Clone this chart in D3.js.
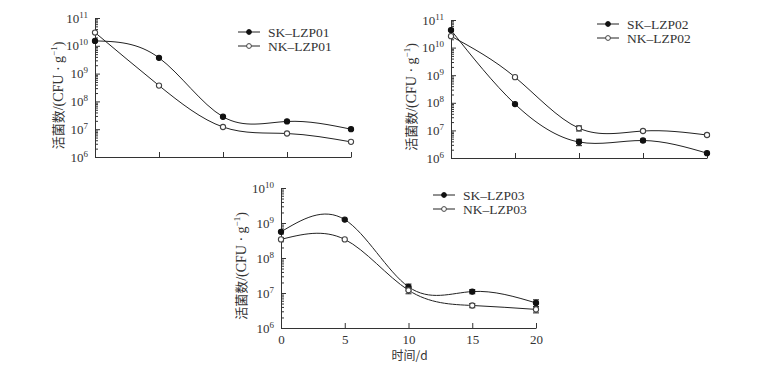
<!DOCTYPE html>
<html>
<head>
<meta charset="utf-8">
<script src="https://cdn.jsdelivr.net/npm/d3@7"></script>
<style>
  body { margin: 0; background: #fff; }
  svg text { font-family: "Liberation Serif", "Times New Roman", serif; fill: #333; }
  .cjk { font-family: "Noto Sans CJK SC", sans-serif; }
</style>
</head>
<body>
<svg id="chart" width="757" height="378"></svg>
<script>
// days
const days = [0, 5, 10, 15, 20];

// viable counts, CFU/g
const sk01 = [1.5e10, 3.7e9, 2.8e7, 1.9e7, 1.0e7];
const nk01 = [3.0e10, 3.7e8, 1.2e7, 7.0e6, 3.5e6];
const sk02 = [4.3e10, 9.0e7, 3.8e6, 4.3e6, 1.5e6];
const nk02 = [2.6e10, 8.5e8, 1.2e7, 9.5e6, 6.8e6];
const sk03 = [5.6e8, 1.25e9, 1.5e7, 1.1e7, 5.2e6];
const nk03 = [3.4e8, 3.4e8, 1.2e7, 4.4e6, 3.4e6];

// standard deviations (0 = no visible bar)
const sk01Err = [0, 0, 0, 0, 0];
const nk01Err = [0, 0, 0, 0, 0];
const sk02Err = [0, 0, 1.0e6, 0.5e6, 0];
const nk02Err = [0, 0, 2.5e6, 1.0e6, 0.8e6];
const sk03Err = [0, 0, 3.0e6, 1.5e6, 1.2e6];
const nk03Err = [0, 0, 2.5e6, 0.6e6, 0.7e6];

const xTickLabels = ['0', '5', '10', '15', '20'];

const svg = d3.select('#chart');

// panel boxes (pixel frame of the plot area)
const panels = [
  { left: 95, right: 351, top: 18, bottom: 157, yMin: 1e6, yMax: 1e11, showX: false,
    series: [{ name: 'SK\u2013LZP01', vals: sk01, err: sk01Err, filled: true },
             { name: 'NK\u2013LZP01', vals: nk01, err: nk01Err, filled: false }],
    legend: { x: 238, y: 32 }, titleX: 63 },
  { left: 451, right: 707, top: 20, bottom: 158, yMin: 1e6, yMax: 1e11, showX: false,
    series: [{ name: 'SK\u2013LZP02', vals: sk02, err: sk02Err, filled: true },
             { name: 'NK\u2013LZP02', vals: nk02, err: nk02Err, filled: false }],
    legend: { x: 597, y: 24 }, titleX: 416 },
  { left: 281, right: 536, top: 188, bottom: 328, yMin: 1e6, yMax: 1e10, showX: true,
    series: [{ name: 'SK\u2013LZP03', vals: sk03, err: sk03Err, filled: true },
             { name: 'NK\u2013LZP03', vals: nk03, err: nk03Err, filled: false }],
    legend: { x: 433, y: 195 }, titleX: 246 }
];

panels.forEach(p => {
  const x = d3.scaleLinear().domain([0, 20]).range([p.left, p.right]);
  const y = d3.scaleLog().domain([p.yMin, p.yMax]).range([p.bottom, p.top]);
  const g = svg.append('g');

  // minor ticks
  const minor = y.ticks().filter(v => Math.abs(Math.log10(v) % 1) > 1e-6);
  g.append('g')
    .attr('transform', `translate(${p.left},0)`)
    .call(d3.axisLeft(y).tickValues(minor).tickSize(-3).tickFormat(''))
    .call(a => a.select('.domain').remove())
    .selectAll('line').attr('stroke', '#333');

  // major ticks + labels
  const expo = d3.range(Math.log10(p.yMin), Math.log10(p.yMax) + 1);
  const yAxis = g.append('g')
    .attr('transform', `translate(${p.left},0)`)
    .call(d3.axisLeft(y).tickValues(expo.map(e => Math.pow(10, e))).tickSize(-5).tickSizeOuter(0).tickPadding(7).tickFormat(''));
  yAxis.select('.domain').attr('stroke', '#333');
  yAxis.selectAll('.tick line').attr('stroke', '#333');
  yAxis.selectAll('.tick text').each(function(d) {
    const t = d3.select(this)
      .attr('font-size', 13)
      .attr('font-family', '"Liberation Serif", serif')
      .attr('fill', '#333');
    t.text('10');
    t.append('tspan').attr('dy', -5).attr('font-size', 9).text(String(Math.round(Math.log10(d))));
  });

  // x axis
  const xAxis = g.append('g')
    .attr('transform', `translate(0,${p.bottom})`)
    .call(d3.axisBottom(x).tickValues(days).tickSize(-5).tickSizeOuter(0).tickPadding(7)
      .tickFormat((d, i) => p.showX ? xTickLabels[i] : ''));
  xAxis.select('.domain').attr('stroke', '#333');
  xAxis.selectAll('.tick line').attr('stroke', '#333');
  xAxis.selectAll('.tick text').attr('font-size', 13)
    .attr('font-family', '"Liberation Serif", serif').attr('fill', '#333');

  // y title
  const cy = (p.top + p.bottom) / 2 + 8;
  const title = g.append('text')
    .attr('transform', `translate(${p.titleX},${cy}) rotate(-90)`)
    .attr('text-anchor', 'middle')
    .attr('font-size', 14);
  title.append('tspan').attr('class', 'cjk').attr('font-size', 13).text('活菌数');
  title.append('tspan').text('/(CFU \u00b7 g');
  title.append('tspan').attr('dy', -6).attr('font-size', 9).text('\u22121');
  title.append('tspan').attr('dy', 6).text(')');

  if (p.showX) {
    g.append('text')
      .attr('class', 'cjk')
      .attr('x', (p.left + p.right) / 2 + 1)
      .attr('y', p.bottom + 32)
      .attr('text-anchor', 'middle')
      .attr('font-size', 12)
      .text('时间/d');
  }

  const line = d3.line()
    .x((d, i) => x(days[i]))
    .y(d => y(d))
    .curve(d3.curveNatural);

  p.series.forEach((s, si) => {
    g.append('path')
      .datum(s.vals)
      .attr('fill', 'none')
      .attr('stroke', '#222')
      .attr('stroke-width', 1)
      .attr('d', line);

    // error bars
    s.vals.forEach((v, i) => {
      if (!s.err[i]) return;
      const xi = x(days[i]);
      const y0 = y(v - s.err[i]), y1 = y(v + s.err[i]);
      g.append('line').attr('x1', xi).attr('x2', xi).attr('y1', y0).attr('y2', y1)
        .attr('stroke', '#222');
      [y0, y1].forEach(yy => g.append('line')
        .attr('x1', xi - 3).attr('x2', xi + 3).attr('y1', yy).attr('y2', yy)
        .attr('stroke', '#222'));
    });

    g.selectAll(null)
      .data(s.vals)
      .join('circle')
      .attr('cx', (d, i) => x(days[i]))
      .attr('cy', d => y(d))
      .attr('r', 2.6)
      .attr('fill', s.filled ? '#111' : '#fff')
      .attr('stroke', s.filled ? '#111' : '#444')
      .attr('stroke-width', 1.1);

    // legend
    const ly = p.legend.y + si * 14;
    g.append('line')
      .attr('x1', p.legend.x).attr('x2', p.legend.x + 22)
      .attr('y1', ly).attr('y2', ly)
      .attr('stroke', '#222');
    g.append('circle')
      .attr('cx', p.legend.x + 11).attr('cy', ly).attr('r', 2.4)
      .attr('fill', s.filled ? '#111' : '#fff')
      .attr('stroke', s.filled ? '#111' : '#444');
    g.append('text')
      .attr('x', p.legend.x + 30)
      .attr('y', ly + 4.5)
      .attr('font-size', 13.5)
      .text(s.name);
  });
});
</script>
</body>
</html>
